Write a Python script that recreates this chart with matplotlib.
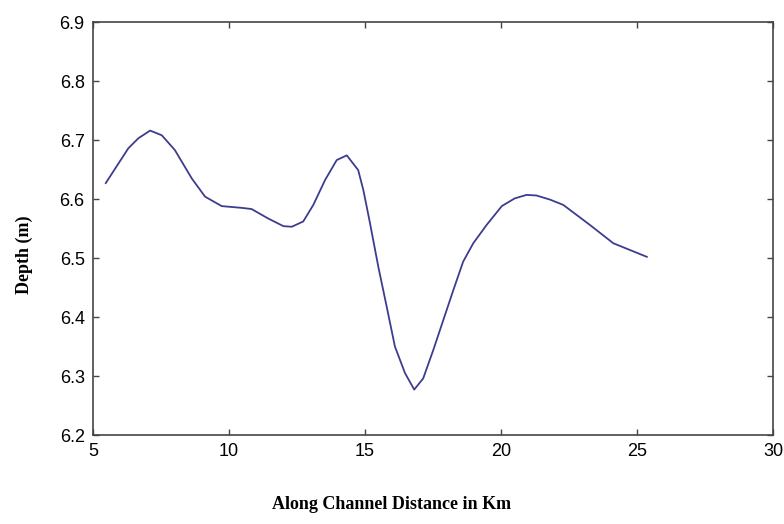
import matplotlib
matplotlib.use("Agg")
import matplotlib.pyplot as plt

# along-channel distance (km) and depth (m)
distance = [5.47, 6.30, 6.67, 7.10, 7.53, 8.01, 8.63, 9.12, 9.73, 10.47,
            10.83, 11.44, 12.00, 12.31, 12.73, 13.10, 13.53, 13.96, 14.33, 14.75,
            14.94, 15.18, 15.49, 15.80, 16.10, 16.47, 16.81, 17.14, 17.51, 17.88,
            18.25, 18.61, 18.98, 19.47, 20.03, 20.50, 20.94, 21.30, 21.80, 22.29,
            23.27, 24.13, 25.36]
depth = [6.627, 6.686, 6.703, 6.716, 6.708, 6.683, 6.635, 6.604, 6.588, 6.585,
         6.583, 6.567, 6.554, 6.553, 6.562, 6.590, 6.632, 6.666, 6.674, 6.649,
         6.615, 6.560, 6.485, 6.417, 6.350, 6.305, 6.277, 6.296, 6.344, 6.395,
         6.446, 6.494, 6.525, 6.556, 6.588, 6.601, 6.607, 6.606, 6.599, 6.590,
         6.556, 6.525, 6.502]

xticks = [5, 10, 15, 20, 25, 30]
yticks = [6.2, 6.3, 6.4, 6.5, 6.6, 6.7, 6.8, 6.9]

fig = plt.figure(figsize=(7.84, 5.24), dpi=100)
ax = fig.add_axes([0.1186, 0.1698, 0.8674, 0.7882])

ax.plot(distance, depth, color="#3d3d8f", linewidth=1.3)

ax.set_xlim(5, 30)
ax.set_ylim(6.2, 6.9)
ax.set_xticks(xticks)
ax.set_yticks(yticks)
ax.set_xticklabels([str(t) for t in xticks])
ax.set_yticklabels(["%.1f" % t for t in yticks])

for s in ax.spines.values():
    s.set_color("#454545")
    s.set_linewidth(1.2)
ax.tick_params(direction="in", length=4, width=1, color="#454545",
               top=True, right=True, labelsize=13, pad=6)
for lab in ax.get_xticklabels() + ax.get_yticklabels():
    lab.set_family("Liberation Sans")

fig.text(0.5, 0.038, "Along Channel Distance in Km", ha="center", va="center",
         family="Liberation Serif", fontweight="bold", fontsize=13)
fig.text(0.031, 0.513, "Depth (m)", ha="center", va="center", rotation=90,
         family="Liberation Serif", fontweight="bold", fontsize=13)

fig.savefig("out.png", dpi=100)
